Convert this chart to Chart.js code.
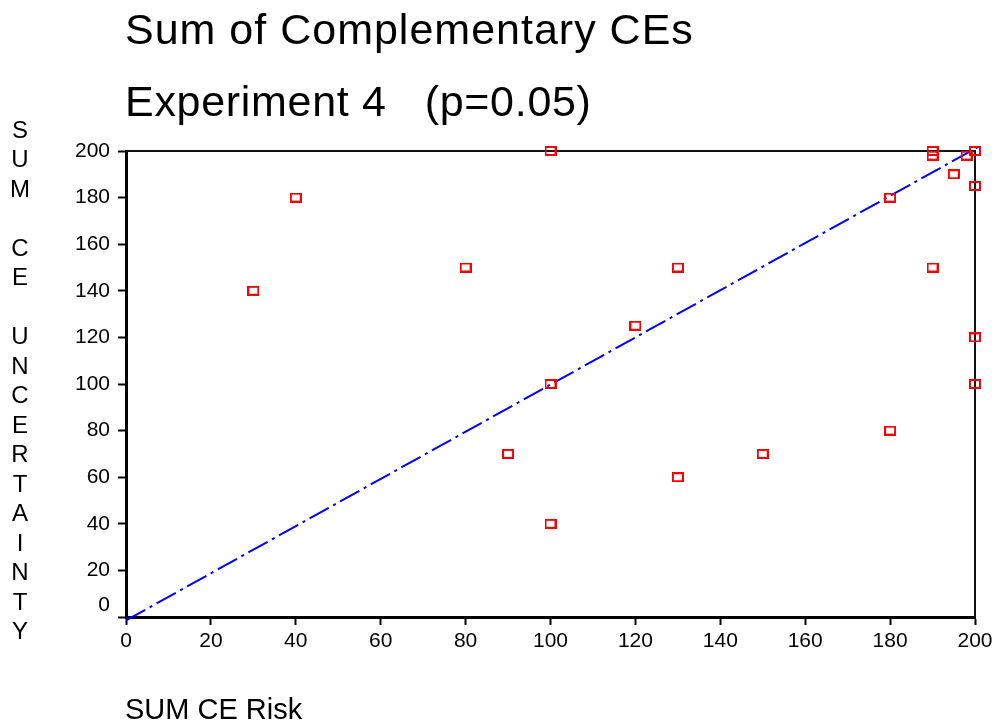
<!DOCTYPE html>
<html>
<head>
<meta charset="utf-8">
<script src="https://cdn.jsdelivr.net/npm/chart.js@4.4.1/dist/chart.umd.min.js"></script>
<style>
  html, body { margin: 0; padding: 0; background: #ffffff; }
  #wrap { width: 997px; height: 727px; position: relative; }
</style>
</head>
<body>
<div id="wrap"><canvas id="c" width="997" height="727"></canvas></div>
<script>
// ---- data ----
const titleLines = ['Sum of Complementary CEs', 'Experiment 4   (p=0.05)'];
const xAxisTitle = 'SUM CE Risk';
const yAxisTitleLetters = ['S','U','M','','C','E','','U','N','C','E','R','T','A','I','N','T','Y'];

const riskValues        = [30, 40, 80, 90, 100, 100, 100, 120, 130, 130, 150, 180, 180, 190, 190, 190, 195, 198, 200, 200, 200, 200];
const uncertaintyValues = [140, 180, 150, 70, 200, 100, 40, 125, 150, 60, 70, 180, 80, 200, 198, 150, 190, 198, 200, 185, 120, 100];

const fitLineX = [0, 201];
const fitLineY = [-1.5, 202];

const axisMin = 0;
const axisMax = 200;
const tickStep = 20;

// ---- build ----
const FONT = '"Liberation Sans", Arial, Helvetica, sans-serif';

const scatterData = riskValues.map((x, i) => ({ x: x, y: uncertaintyValues[i] }));
const fitData = fitLineX.map((x, i) => ({ x: x, y: fitLineY[i] }));

// hollow red rectangle marker
const marker = document.createElement('canvas');
marker.width = 12; marker.height = 10;
(function () {
  const m = marker.getContext('2d');
  m.strokeStyle = '#ff0000';
  m.lineWidth = 2;
  m.strokeRect(1, 1, 10, 8);
})();

const decorPlugin = {
  id: 'decor',
  beforeDatasetsDraw(chart) {
    const ctx = chart.ctx;
    const a = chart.chartArea;
    ctx.save();
    ctx.strokeStyle = '#111111';
    ctx.lineWidth = 2;
    ctx.beginPath();
    ctx.moveTo(a.left, a.top);
    ctx.lineTo(a.right, a.top);
    ctx.lineTo(a.right, a.bottom);
    ctx.stroke();
    ctx.restore();
  },
  afterDraw(chart) {
    const ctx = chart.ctx;
    const a = chart.chartArea;
    const ys = chart.scales.y;
    ctx.save();
    ctx.fillStyle = '#000000';
    // titles
    ctx.font = '43px ' + FONT;
    ctx.textAlign = 'left';
    ctx.textBaseline = 'alphabetic';
    try { ctx.letterSpacing = '1px'; } catch (e) {}
    ctx.fillText(titleLines[0], a.left - 1, 44);
    try { ctx.letterSpacing = '0.7px'; } catch (e) {}
    ctx.fillText(titleLines[1], a.left - 1, 116);
    try { ctx.letterSpacing = '0px'; } catch (e) {}
    // x axis title
    ctx.font = '29px ' + FONT;
    ctx.fillText(xAxisTitle, a.left - 1, 719);
    // y axis title (stacked letters)
    ctx.font = '24px ' + FONT;
    ctx.textAlign = 'center';
    ctx.textBaseline = 'middle';
    yAxisTitleLetters.forEach((ch, i) => {
      if (ch) ctx.fillText(ch, 20, 131 + i * 29.5);
    });
    // the "0" y tick label sits above its tick in the reference
    ctx.font = '21px ' + FONT;
    ctx.textAlign = 'right';
    ctx.fillText('0', a.left - 16, ys.getPixelForValue(0) - 12);
    ctx.restore();
  }
};

new Chart(document.getElementById('c'), {
  type: 'scatter',
  data: {
    datasets: [
      {
        type: 'line',
        data: fitData,
        borderColor: '#0000ff',
        borderWidth: 2,
        borderDash: [22, 5, 3, 5],
        pointRadius: 0,
        fill: false,
        clip: false,
        order: 2
      },
      {
        data: scatterData,
        pointStyle: marker,
        pointRadius: 6,
        clip: false,
        order: 1
      }
    ]
  },
  options: {
    responsive: false,
    animation: false,
    devicePixelRatio: 1,
    layout: { padding: { left: 0, top: 151, right: 22, bottom: 70 } },
    plugins: { legend: { display: false }, tooltip: { enabled: false }, title: { display: false } },
    scales: {
      x: {
        type: 'linear',
        min: axisMin, max: axisMax,
        afterFit(s) { s.height = 40; },
        ticks: { stepSize: tickStep, color: '#000000', font: { family: FONT, size: 21 }, padding: 4, maxRotation: 0 },
        grid: { drawOnChartArea: false, drawTicks: true, tickLength: 8, color: '#000000', tickWidth: 2 },
        border: { display: true, color: '#000000', width: 3 }
      },
      y: {
        type: 'linear',
        min: axisMin, max: axisMax,
        afterFit(s) { s.width = 126; },
        ticks: {
          stepSize: tickStep, color: '#000000', font: { family: FONT, size: 21 }, padding: 8,
          callback: (v) => (v === 0 ? '' : String(v))
        },
        grid: { drawOnChartArea: false, drawTicks: true, tickLength: 8, color: '#000000', tickWidth: 2 },
        border: { display: true, color: '#000000', width: 3 }
      }
    }
  },
  plugins: [decorPlugin]
});
</script>
</body>
</html>
